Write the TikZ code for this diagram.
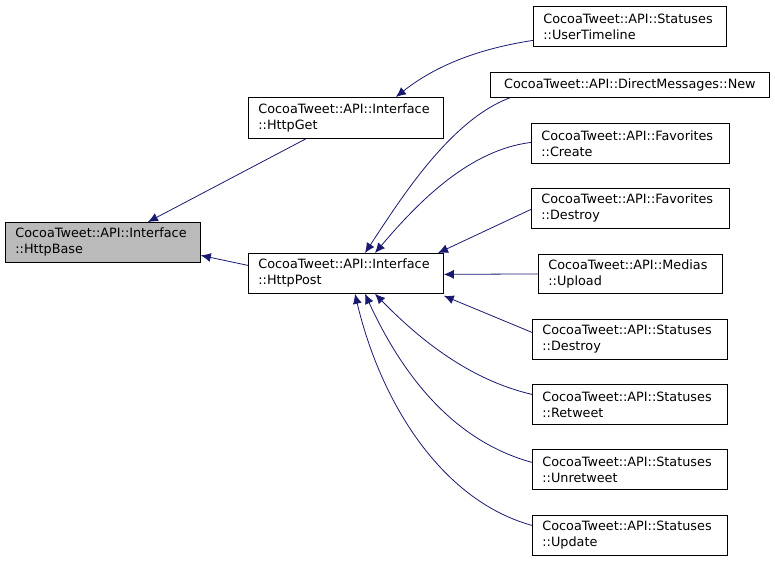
\documentclass[tikz,border=0pt]{standalone}
\usepackage{fontspec}
\setmainfont{DejaVu Sans}
\usetikzlibrary{arrows.meta}
\begin{document}
\begin{tikzpicture}[x=1pt,y=-1pt,
  box/.style={draw=black,line width=0.8pt,fill=white,inner xsep=10pt,inner ysep=0pt,align=left,font=\fontsize{12.8}{16}\selectfont,anchor=north west},
  arr/.style={draw={rgb,255:red,25;green,25;blue,112},line width=0.8pt,-{Latex[length=10pt,width=9pt]}}]
\useasboundingbox (0,0) rectangle (775,561);
\newcommand\bx[7]{\node[box,#7,text width=#4-#2-20,minimum height=#5-#3] (#1) at (#2,#3) {#6};}
\bx{base}{5}{222}{200}{262}{CocoaTweet::API::Interface\\::HttpBase}{fill=black!27}
\bx{get}{248}{97}{443}{138}{CocoaTweet::API::Interface\\::HttpGet}{}
\bx{post}{248}{253}{443}{293}{CocoaTweet::API::Interface\\::HttpPost}{}
\bx{ut}{533}{6}{726}{46}{CocoaTweet::API::Statuses\\::UserTimeline}{}
\bx{dm}{490}{72}{769}{97}{CocoaTweet::API::DirectMessages::New}{align=center}
\bx{fc}{531}{123}{729}{163}{CocoaTweet::API::Favorites\\::Create}{}
\bx{fd}{531}{188}{729}{228}{CocoaTweet::API::Favorites\\::Destroy}{}
\bx{mu}{538}{254}{722}{293}{CocoaTweet::API::Medias\\::Upload}{}
\bx{sd}{532}{319}{727}{359}{CocoaTweet::API::Statuses\\::Destroy}{}
\bx{rt}{532}{384}{727}{424}{CocoaTweet::API::Statuses\\::Retweet}{}
\bx{ur}{532}{449}{727}{489}{CocoaTweet::API::Statuses\\::Unretweet}{}
\bx{up}{532}{515}{727}{555}{CocoaTweet::API::Statuses\\::Update}{}
\draw[arr] ([xshift=-40]get.south) -- ([xshift=45]base.north);
\draw[arr] ([yshift=8]post.west) -- ([yshift=-13]base.east);
\draw[arr] ([yshift=-14]ut.west) .. controls (470,50) and (430,70) .. ([xshift=50]get.north);
\draw[arr] ([xshift=20]dm.south west) .. controls (450,120) and (400,200) .. ([xshift=117]post.north west);
\draw[arr] ([yshift=1]fc.west) .. controls (470,150) and (420,200) .. ([xshift=127]post.north west);
\draw[arr] ([yshift=-1]fd.west) -- ([xshift=190]post.north west);
\draw[arr] (mu.west) -- ([yshift=-1]post.east);
\draw[arr] ([yshift=7]sd.west) -- ([yshift=-2]post.south east);
\draw[arr] ([yshift=10]rt.west) .. controls (470,380) and (420,340) .. ([xshift=127]post.south west);
\draw[arr] ([yshift=7]ur.west) .. controls (450,440) and (400,370) .. ([xshift=117]post.south west);
\draw[arr] ([yshift=10]up.west) .. controls (440,500) and (380,400) .. ([xshift=107]post.south west);
\end{tikzpicture}
\end{document}
